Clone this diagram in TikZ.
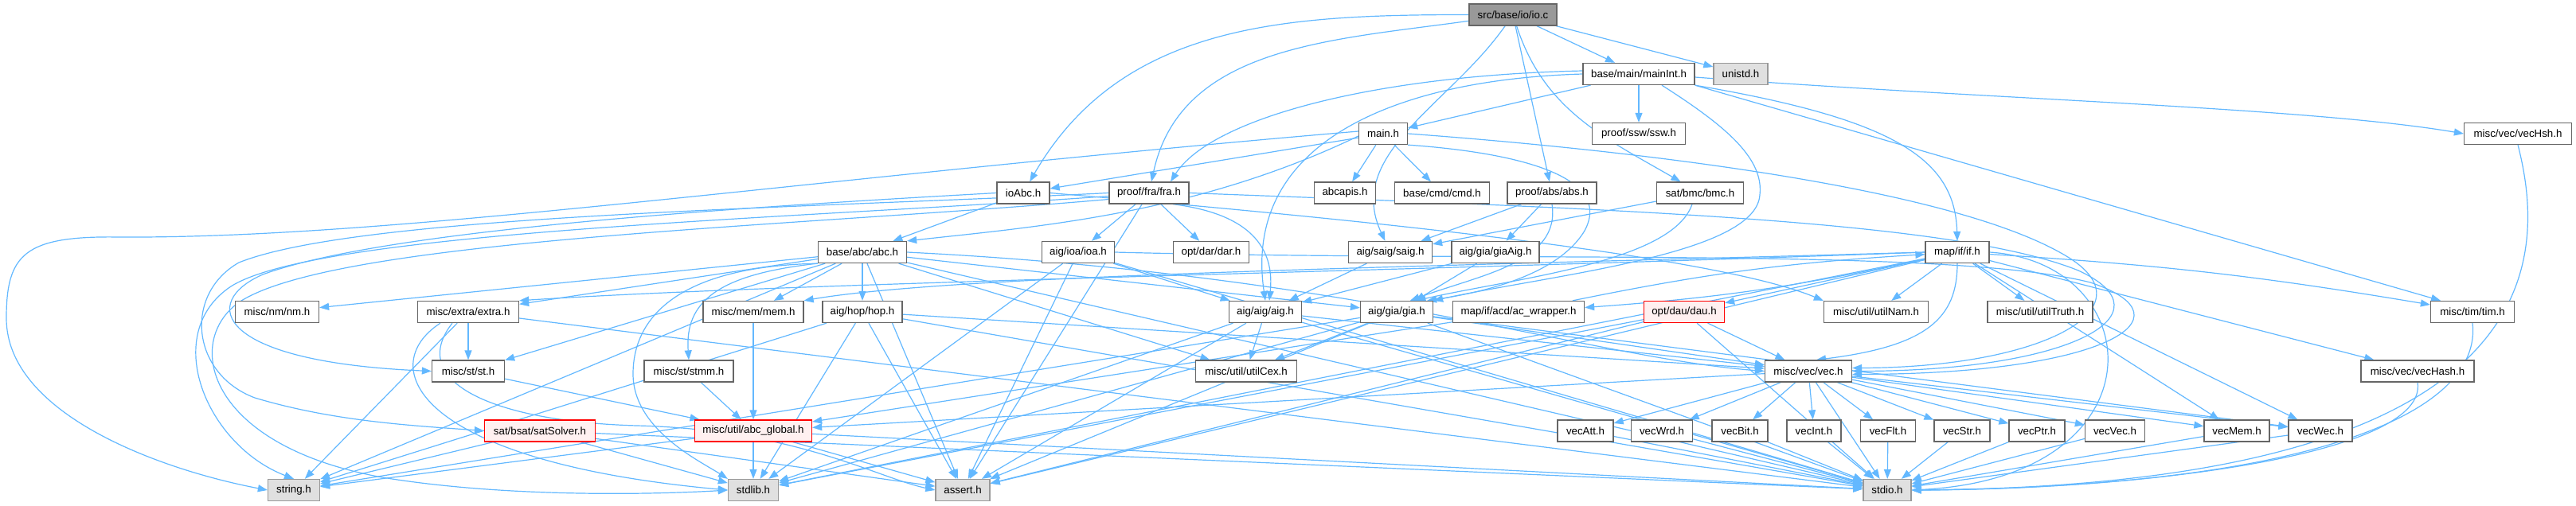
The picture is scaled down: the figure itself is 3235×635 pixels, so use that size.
\documentclass[tikz,border=0pt]{standalone}
\usepackage{fontspec}
\setmainfont{Liberation Sans}
\usetikzlibrary{arrows.meta}
\pgfdeclarelayer{background}
\pgfsetlayers{background,main}
\definecolor{eb}{HTML}{63B8FF}
\definecolor{nb}{HTML}{666666}
\definecolor{gf}{HTML}{E0E0E0}
\definecolor{gb}{HTML}{999999}
\definecolor{rf}{HTML}{FFF0F0}
\definecolor{tf}{HTML}{999999}
\begin{document}
\begin{tikzpicture}[x=1pt,y=-1pt,
  nd/.style={draw=nb, fill=white, line width=1.3pt, minimum height=27pt, inner xsep=3pt, inner ysep=0pt, font=\fontsize{13.3}{15}\selectfont},
  gr/.style={nd, draw=gb, fill=gf},
  rd/.style={nd, draw=red, fill=rf},
  tp/.style={nd, draw=nb, fill=tf},
  e/.style={draw=eb, line width=1.2pt, -{Triangle[length=12pt,width=9pt]}}]
\useasboundingbox (0,0) rectangle (3235,635);
% row 0
\node[tp, minimum width=110pt] (io) at (1900,18.5) {src/base/io/io.c};
% row 1
\node[nd, minimum width=140pt] (mainint) at (2058,93) {base/main/mainInt.h};
\node[gr, minimum width=68pt] (unistd) at (2186,93) {unistd.h};
% row 2
\node[nd, minimum width=61pt] (mainh) at (1737,168) {main.h};
\node[nd, minimum width=117pt] (ssw) at (2058,168) {proof/ssw/ssw.h};
\node[nd, minimum width=135pt] (vechsh) at (3162,168) {misc/vec/vecHsh.h};
% row 3
\node[nd, minimum width=66pt] (ioabc) at (1285,242.5) {ioAbc.h};
\node[nd, minimum width=100pt] (fra) at (1443,242.5) {proof/fra/fra.h};
\node[nd, minimum width=77pt] (abcapis) at (1689,242.5) {abcapis.h};
\node[nd, minimum width=119pt] (cmd) at (1811,242.5) {base/cmd/cmd.h};
\node[nd, minimum width=112pt] (abs) at (1949,242.5) {proof/abs/abs.h};
\node[nd, minimum width=109pt] (bmc) at (2135,242.5) {sat/bmc/bmc.h};
% row 4
\node[nd, minimum width=111pt] (abc) at (1083,317) {base/abc/abc.h};
\node[nd, minimum width=91pt] (ioa) at (1354,317) {aig/ioa/ioa.h};
\node[nd, minimum width=95pt] (dar) at (1521,317) {opt/dar/dar.h};
\node[nd, minimum width=105pt] (saig) at (1746,317) {aig/saig/saig.h};
\node[nd, minimum width=110pt] (giaaig) at (1878,317) {aig/gia/giaAig.h};
\node[nd, minimum width=80pt] (ifh) at (2458,317) {map/if/if.h};
% row 5
\node[nd, minimum width=105pt] (nm) at (348,392) {misc/nm/nm.h};
\node[nd, minimum width=127pt] (extra) at (588,392) {misc/extra/extra.h};
\node[nd, minimum width=126pt] (mem) at (946,392) {misc/mem/mem.h};
\node[nd, minimum width=100pt] (hop) at (1083,392) {aig/hop/hop.h};
\node[nd, minimum width=91pt] (aig) at (1589,392) {aig/aig/aig.h};
\node[nd, minimum width=91pt] (gia) at (1754,392) {aig/gia/gia.h};
\node[nd, minimum width=165pt] (acw) at (1907,392) {map/if/acd/ac\_wrapper.h};
\node[rd, minimum width=101pt] (dau) at (2115,392) {opt/dau/dau.h};
\node[nd, minimum width=131pt] (utilnam) at (2356,392) {misc/util/utilNam.h};
\node[nd, minimum width=132pt] (utiltruth) at (2562,392) {misc/util/utilTruth.h};
\node[nd, minimum width=105pt] (tim) at (3105,392) {misc/tim/tim.h};
% row 6
\node[nd, minimum width=91pt] (st) at (588,466.5) {misc/st/st.h};
\node[nd, minimum width=112pt] (stmm) at (865,466.5) {misc/st/stmm.h};
\node[nd, minimum width=127pt] (utilcex) at (1565,466.5) {misc/util/utilCex.h};
\node[nd, minimum width=109pt] (vec) at (2271,466.5) {misc/vec/vec.h};
\node[nd, minimum width=142pt] (vechash) at (3036,466.5) {misc/vec/vecHash.h};
% row 7
\node[rd, minimum width=139pt] (sat) at (678,541.5) {sat/bsat/satSolver.h};
\node[rd, minimum width=147pt] (glob) at (946,541.5) {misc/util/abc\_global.h};
\node[nd, minimum width=70pt] (vatt) at (1991,541.5) {vecAtt.h};
\node[nd, minimum width=77pt] (vwrd) at (2087,541.5) {vecWrd.h};
\node[nd, minimum width=70pt] (vbit) at (2185,541.5) {vecBit.h};
\node[nd, minimum width=68pt] (vint) at (2278,541.5) {vecInt.h};
\node[nd, minimum width=69pt] (vflt) at (2371,541.5) {vecFlt.h};
\node[nd, minimum width=70pt] (vstr) at (2464,541.5) {vecStr.h};
\node[nd, minimum width=70pt] (vptr) at (2558,541.5) {vecPtr.h};
\node[nd, minimum width=75pt] (vvec) at (2656,541.5) {vecVec.h};
\node[nd, minimum width=82pt] (vmem) at (2809,541.5) {vecMem.h};
\node[nd, minimum width=80pt] (vwec) at (2914,541.5) {vecWec.h};
% row 8
\node[gr, minimum width=65pt] (string) at (369,616) {string.h};
\node[gr, minimum width=63pt] (stdlib) at (946,616) {stdlib.h};
\node[gr, minimum width=68pt] (assert) at (1209,616) {assert.h};
\node[gr, minimum width=60pt] (stdio) at (2370,616) {stdio.h};

\begin{pgfonlayer}{background}
% io.c
\draw[e] (io) to[out=180,in=60] (ioabc);
\draw[e] (io) to[out=188,in=78] (fra);
\draw[e] (io) to[out=235,in=115] (saig);
\draw[e] (io) -- (abs);
\draw[e] (io) to[out=-72,in=150] (bmc);
\draw[e] (io) -- (mainint);
\draw[e] (io) -- (unistd);
% mainInt.h
\draw[e] (mainint) -- (mainh);
\draw[e] ([yshift=4pt]mainint.west) .. controls (1720,95) and (1520,150) .. ([xshift=27pt]fra.north);
\draw[e] (mainint.west) .. controls (1750,100) and (1560,180) .. (aig.north);
\draw[e] ([xshift=29pt]mainint.south) .. controls (2170,160) and (2215,200) .. (2210,245) .. controls (2205,320) and (1950,345) .. (gia.north east);
\draw[e] (mainint) -- (ssw);
\draw[e] (mainint.south east) .. controls (2380,150) and (2455,200) .. (ifh.north);
\draw[e] (mainint.south east) -- ([xshift=-40pt]tim.north);
\draw[e] ([yshift=-4pt]mainint.east) .. controls (2500,125) and (2900,135) .. (vechsh.west);
% main.h
\draw[e] (mainh) -- (ioabc);
\draw[e] ([yshift=-3pt]mainh.west) .. controls (1500,270) and (1300,285) .. (abc.north east);
\draw[e] (mainh) -- (abcapis);
\draw[e] (mainh) -- (cmd);
\draw[e] ([yshift=3pt]mainh.west) .. controls (1000,225) and (500,300) .. (150,298) .. controls (30,296) and (8,320) .. (8,400) .. controls (8,520) and (200,590) .. (string.west);
\draw[e] (mainh.east) .. controls (2000,185) and (2450,230) .. (2600,325) .. controls (2700,390) and (2560,462) .. ([yshift=4pt]vec.east);
\draw[e] (mainh.south east) .. controls (1880,190) and (2030,215) .. (1990,290) .. controls (1960,340) and (1880,365) .. ([xshift=-8pt]gia.north east);
% ioAbc.h
\draw[e] (ioabc) -- (abc);
\draw[e] (ioabc.west) .. controls (900,262) and (480,290) .. (330,345) .. controls (250,380) and (270,455) .. (st.west);
\draw[e] (ioabc.east) .. controls (1700,275) and (2150,320) .. (utilnam.north west);
% fra.h
\draw[e] (fra) -- (ioa);
\draw[e] (fra) -- (dar);
\draw[e] ([xshift=30pt]fra.south) .. controls (1580,270) and (1600,320) .. ([xshift=5pt]aig.north);
\draw[e] (fra.west) .. controls (1000,262) and (450,270) .. (300,330) .. controls (230,370) and (240,470) .. (320,500) .. controls (420,530) and (520,535) .. (sat.west);
\draw[e] ([yshift=-4pt]fra.west) .. controls (1000,275) and (400,290) .. (290,360) .. controls (200,420) and (260,560) .. (string.north);
\draw[e] ([yshift=-8pt]fra.west) .. controls (1000,285) and (420,300) .. (300,380) .. controls (230,430) and (260,560) .. (480,600) .. controls (650,628) and (850,620) .. (stdlib.west);
\draw[e] (fra) -- (assert);
\draw[e] (fra.east) .. controls (2000,262) and (2450,275) .. (2610,340) .. controls (2730,395) and (2600,466) .. (vec.east);
% ioa.h
\draw[e] (ioa) -- (aig);
\draw[e] (ioa) -- (assert);
\draw[e] (ioa) -- (stdlib);
\draw[e] (ioa.east) .. controls (1900,330) and (2450,310) .. (2625,355) .. controls (2760,400) and (2640,470) .. ([yshift=-4pt]vec.east);
\draw[e] (ioa) -- (stdio);
% abc.h
\draw[e] (abc) -- (nm);
\draw[e] (abc) -- (extra);
\draw[e] (abc) -- (mem);
\draw[e] (abc) -- (hop);
\draw[e] (abc) -- (st);
\draw[e] (abc.south west) .. controls (900,345) and (860,380) .. (stmm.north);
\draw[e] (abc) -- (gia);
\draw[e] (abc) -- (utilcex);
\draw[e] (abc.east) .. controls (1700,345) and (2000,450) .. (vec.west);
\draw[e] (abc) -- (string);
\draw[e] (abc.south west) .. controls (850,335) and (795,400) .. (795,470) .. controls (795,540) and (880,580) .. (stdlib.north west);
\draw[e] (abc) -- (assert);
\draw[e] (abc) -- (stdio);
% saig, giaAig, abs, bmc
\draw[e] (saig) -- (aig);
\draw[e] (giaaig) -- (aig);
\draw[e] (giaaig) -- (gia);
\draw[e] (abs) -- (saig);
\draw[e] (abs) -- (giaaig);
\draw[e] (abs.south) .. controls (1960,330) and (1860,345) .. (gia.40);
\draw[e] (bmc) -- (saig);
\draw[e] ([xshift=-10pt]bmc.south) .. controls (2100,330) and (1900,350) .. (gia.30);
% if.h
\draw[e] (ifh) to[bend left=4] (acw);
\draw[e] (acw) to[bend left=4] (ifh);
\draw[e] (ifh) -- (dau);
\draw[e] (ifh) -- (utilnam);
\draw[e] (ifh) -- (utiltruth);
\draw[e] (ifh) to[bend left=3] (tim);
\draw[e] (ifh) -- (vechash);
\draw[e] (ifh) -- (vmem);
\draw[e] (ifh) -- (vwec);
\draw[e] (ifh.south) .. controls (2458,400) and (2420,435) .. ([xshift=10pt]vec.north);
\draw[e] (ifh.west) .. controls (1800,335) and (1200,345) .. (mem.north east);
\draw[e] (ifh.west) .. controls (1800,340) and (1000,355) .. (extra.north east);
\draw[e] (ifh) -- (stdlib);
\draw[e] (ifh) -- (assert);
\draw[e] (ifh.east) .. controls (2700,330) and (2720,600) .. (stdio.east);
% ac_wrapper, dau
\draw[e] (acw) -- (glob);
\draw[e] (dau) -- (vec);
\draw[e] (dau) -- (stdlib);
\draw[e] (dau) -- (assert);
\draw[e] (dau) -- (stdio);
% extra
\draw[e] (extra) -- (string);
\draw[e] ([xshift=-35pt]extra.south) .. controls (470,460) and (520,580) .. (stdlib.west);
\draw[e] ([xshift=-20pt]extra.south) .. controls (510,480) and (620,530) .. (800,535) .. controls (1000,540) and (1100,600) .. (assert.west);
\draw[e] (extra) -- (st);
\draw[e] (extra) -- (stdio);
% st, stmm, mem
\draw[e] (st) -- (glob);
\draw[e] (stmm) -- (glob);
\draw[e] (mem) -- (glob);
% hop
\draw[e] (hop) -- (string);
\draw[e] (hop) -- (stdlib);
\draw[e] (hop) -- (assert);
\draw[e] (hop) -- (stdio);
\draw[e] (hop) -- (vec);
% aig
\draw[e] (aig) -- (stdlib);
\draw[e] (aig) -- (assert);
\draw[e] (aig) -- (stdio);
\draw[e] (aig) -- (vec);
\draw[e] (aig) -- (utilcex);
% gia
\draw[e] (gia) -- (string);
\draw[e] (gia) -- (stdlib);
\draw[e] (gia) -- (assert);
\draw[e] (gia) -- (stdio);
\draw[e] (gia) -- (vec);
\draw[e] (gia) -- (vwec);
\draw[e] (gia) -- (utilcex);
% vec
\draw[e] (vec) -- (vatt);
\draw[e] (vec) -- (vwrd);
\draw[e] (vec) -- (vbit);
\draw[e] (vec) -- (vint);
\draw[e] (vec) -- (vflt);
\draw[e] (vec) -- (vstr);
\draw[e] (vec) -- (vptr);
\draw[e] (vec) -- (vvec);
\draw[e] (vec) -- (vmem);
\draw[e] (vec) -- (vwec);
\draw[e] (vec) -- (stdio);
\draw[e] (vec) -- (glob);
% vecX
\draw[e] (vatt) -- (stdio);
\draw[e] (vwrd) -- (stdio);
\draw[e] (vbit) -- (stdio);
\draw[e] (vint) -- (stdio);
\draw[e] (vflt) -- (stdio);
\draw[e] (vstr) -- (stdio);
\draw[e] (vptr) -- (stdio);
\draw[e] (vvec) -- (stdio);
\draw[e] (vmem) -- (stdio);
\draw[e] (vwec) -- (stdio);
% abc_global, satSolver
\draw[e] (glob) -- (string);
\draw[e] (glob) -- (stdlib);
\draw[e] (glob) -- (assert);
\draw[e] (glob) -- (stdio);
\draw[e] (sat) -- (string);
\draw[e] (sat) -- (stdlib);
\draw[e] (sat) -- (assert);
\draw[e] (sat) -- (stdio);
% right side to stdio
\draw[e] (vechash.south) .. controls (3050,570) and (2700,615) .. (stdio.east);
\draw[e] (tim.south) .. controls (3118,520) and (2900,612) .. (stdio.east);
\draw[e] (vechsh.south) .. controls (3200,330) and (3200,610) .. (stdio.east);
\end{pgfonlayer}
\end{tikzpicture}
\end{document}
